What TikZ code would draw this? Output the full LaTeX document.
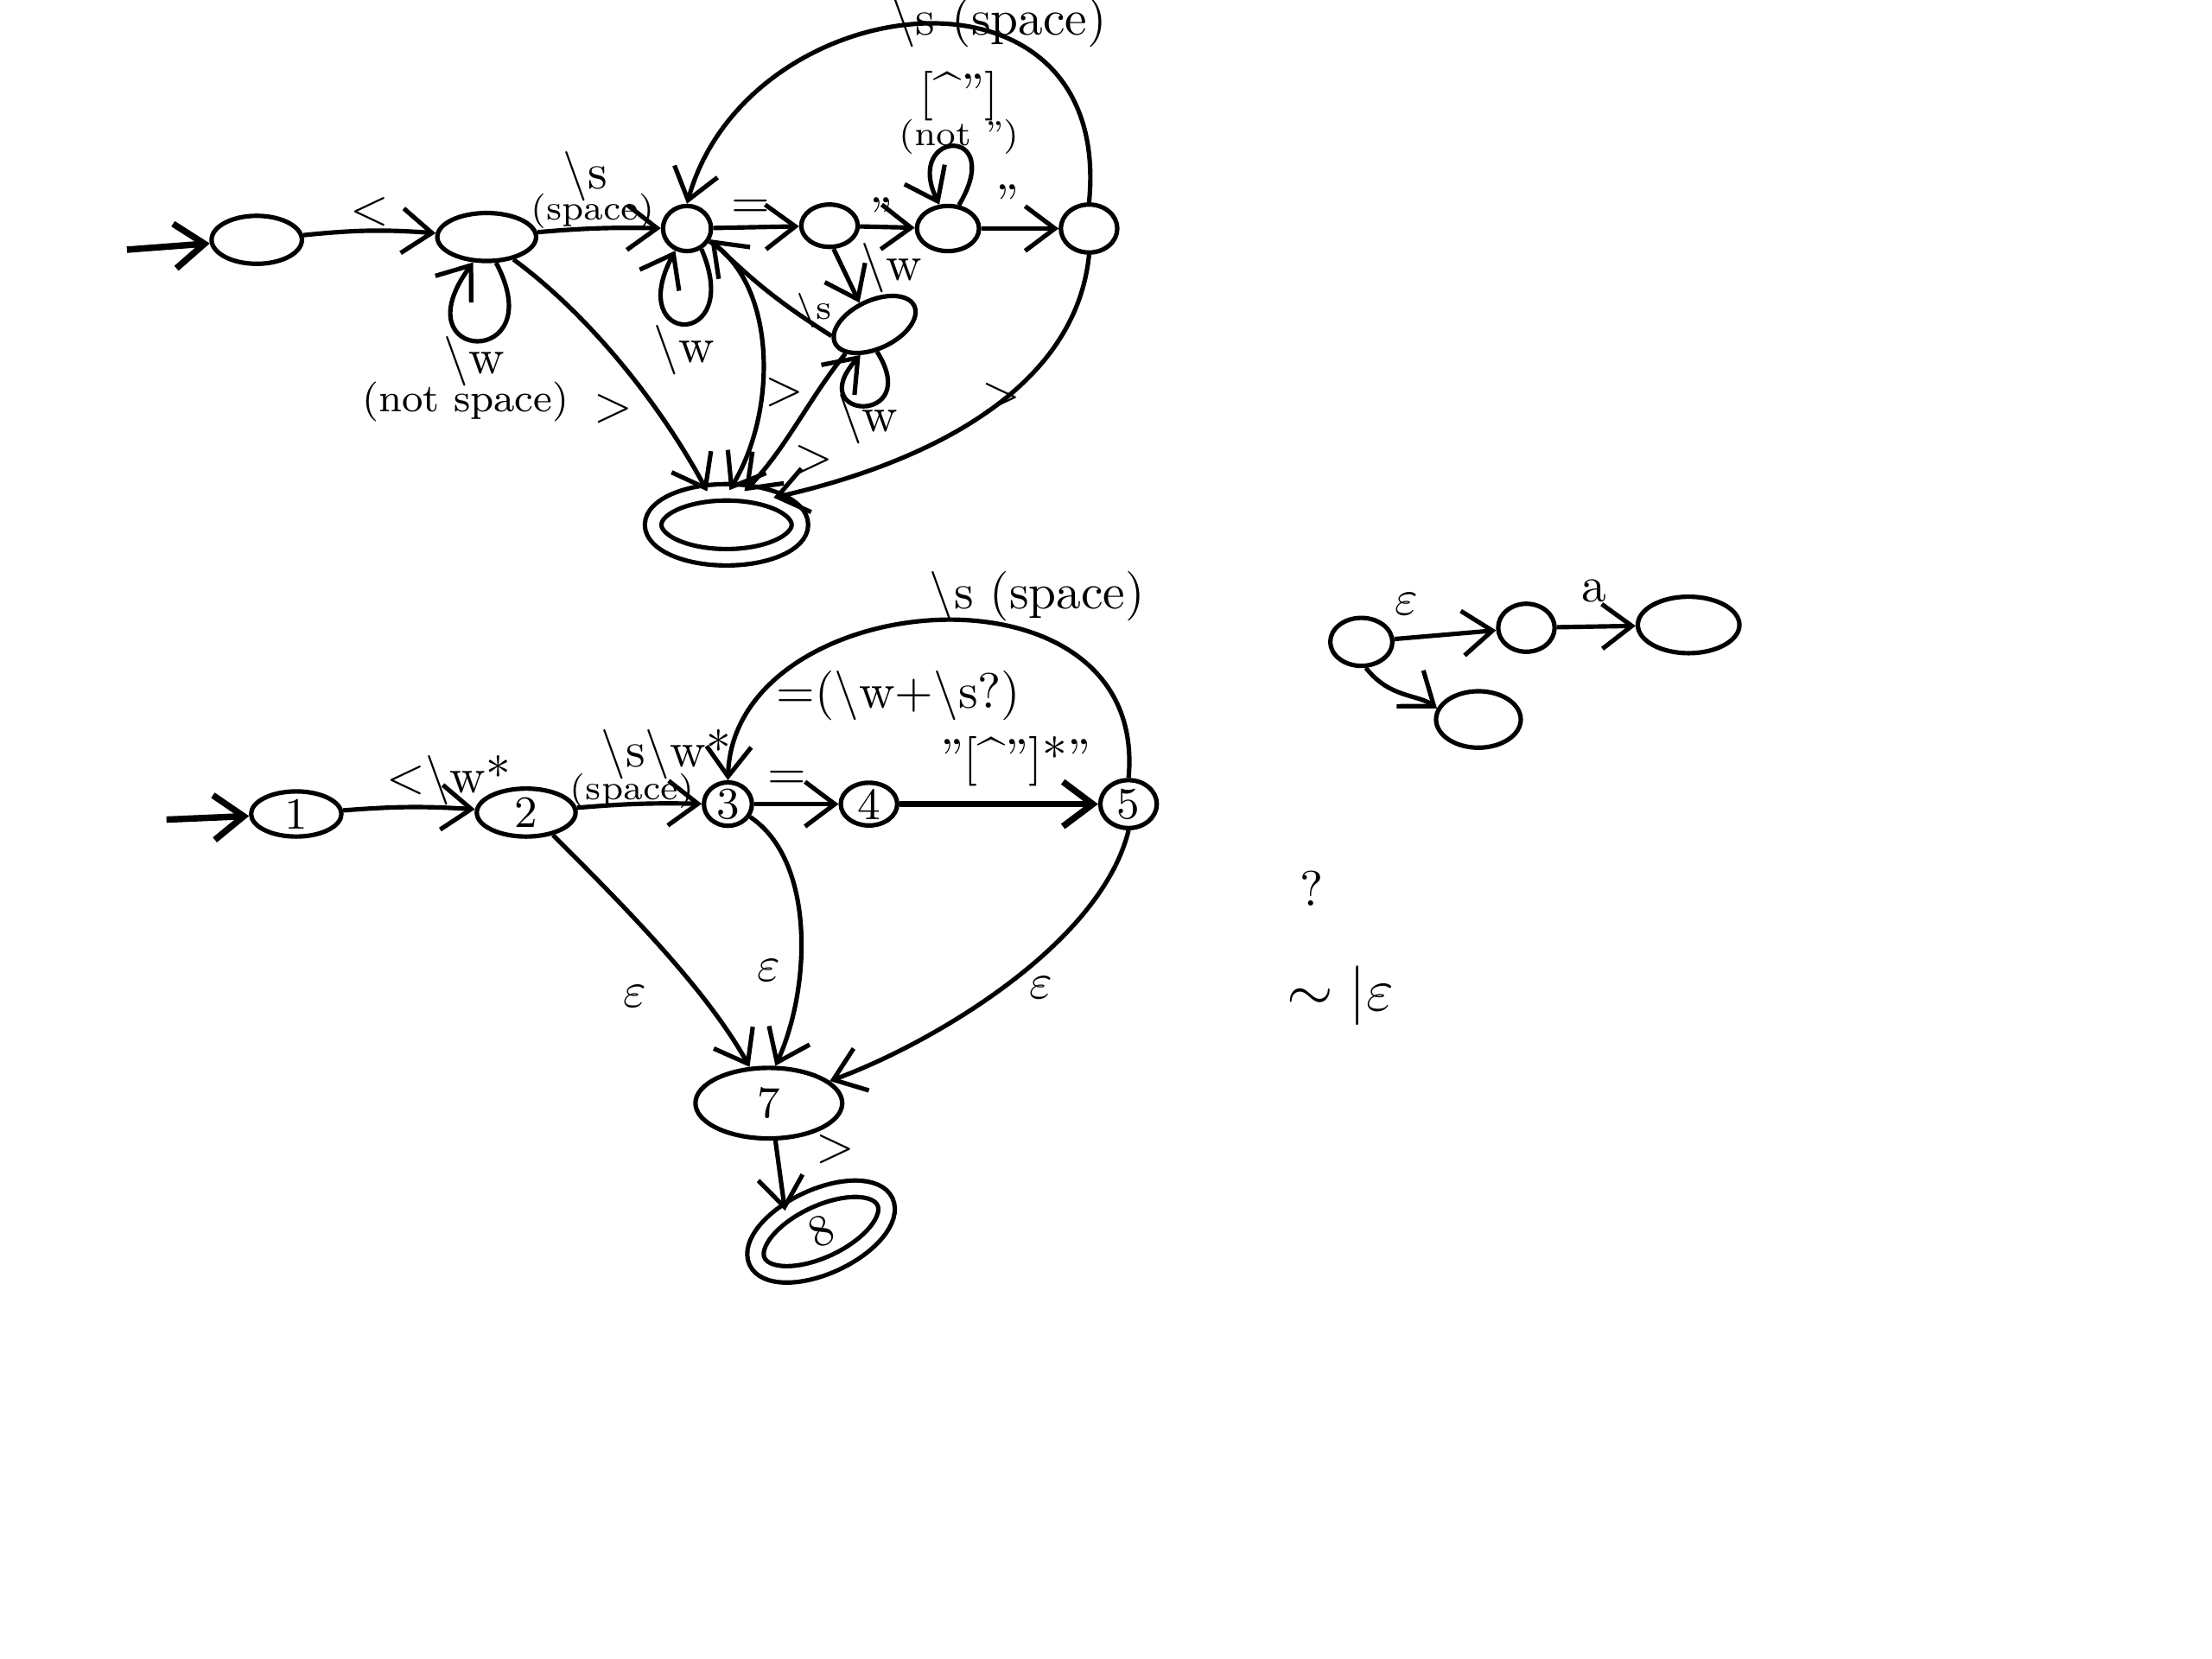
\documentclass[tikz,border=0pt]{standalone}
\usetikzlibrary{arrows.meta,shapes.geometric}
\begin{document}
\begin{tikzpicture}[x=0.01cm,y=-0.01cm,line width=0.9pt,
  >={Straight Barb[length=6pt,width=9pt]},
  st/.style={draw,ellipse,inner sep=0pt,font=\small},
  acc/.style={st,double,double distance=2.4pt},
  lbl/.style={font=\normalsize,inner sep=1pt},
  small/.style={font=\footnotesize,inner sep=1pt},
  tiny/.style={font=\scriptsize,inner sep=1pt}]
\useasboundingbox (0,0) rectangle (1568,1176);
% ---------- top diagram ----------
\coordinate (S1) at (90,177);
\node[st,minimum width=0.64cm,minimum height=0.34cm] (A) at (182,170) {};
\node[st,minimum width=0.70cm,minimum height=0.34cm] (B) at (345,168) {};
\node[st,minimum width=0.34cm,minimum height=0.32cm] (C) at (487,162) {};
\node[st,minimum width=0.40cm,minimum height=0.30cm] (D) at (588,160) {};
\node[st,minimum width=0.44cm,minimum height=0.32cm] (E) at (672,162) {};
\node[st,minimum width=0.40cm,minimum height=0.34cm] (F) at (772,162) {};
\node[st,minimum width=0.62cm,minimum height=0.34cm,rotate=25] (G) at (620,230) {};
\node[acc,minimum width=1.04cm,minimum height=0.46cm] (H) at (515,372) {};

\draw[->,line width=1.3pt] (S1) -- (A);
\draw[->] (A) to[bend left=5] (B);
\draw[->] (B) to[bend left=3] (C);
\draw[->] (B.-70) .. controls (392,262) and (282,258) .. (B.-118);
\draw[->] (C.-55) .. controls (528,248) and (442,246) .. (C.-118);
\draw[->] (C) -- (D);
\draw[->] (D) -- (E);
\draw[->] (E.65) .. controls (714,88) and (640,92) .. (E.110);
\draw[->] (E) -- (F);
\draw[->] (F.north) .. controls (790,-40) and (530,-10) .. (C.north);
\draw[->] (D.-80) -- (G.100);
\draw[->] (G.170) to[bend left=6] (C.-25);
\draw[->] (G.-110) .. controls (655,302) and (568,298) .. (G.-140);
\draw[->] (B.-40) .. controls (420,225) and (470,290) .. (H.120);
\draw[->] (C.-30) .. controls (550,200) and (552,290) .. (H.85);
\draw[->] (G.-160) .. controls (575,280) and (556,320) .. (H.62);
\draw[->] (F.south) .. controls (762,280) and (650,330) .. (H.30);

\node[lbl] at (262,150) {<};
\node[lbl] at (415,125) {\textbackslash s};
\node[tiny] at (420,150) {(space)};
\node[lbl] at (336,256) {\textbackslash w};
\node[small] at (330,285) {(not space)};
\node[lbl] at (485,248) {\textbackslash w};
\node[lbl] at (532,148) {=};
\node[lbl] at (625,152) {"};
\node[lbl] at (714,143) {"};
\node[lbl] at (680,68) {[\^{}"]};
\node[tiny] at (680,97) {(not ")};
\node[lbl] at (708,16) {\textbackslash s (space)};
\node[lbl] at (632,190) {\textbackslash w};
\node[tiny] at (577,220) {\textbackslash s};
\node[lbl] at (615,297) {\textbackslash w};
\node[lbl] at (435,290) {>};
\node[lbl] at (556,278) {>};
\node[lbl] at (577,326) {>};
\node[lbl] at (710,282) {>};

% ---------- bottom diagram ----------
\coordinate (S2) at (118,581);
\node[st,minimum width=0.64cm,minimum height=0.32cm] (N1) at (210,577) {1};
\node[st,minimum width=0.70cm,minimum height=0.34cm] (N2) at (373,576) {2};
\node[st,minimum width=0.34cm,minimum height=0.30cm] (N3) at (516,570) {3};
\node[st,minimum width=0.40cm,minimum height=0.28cm] (N4) at (616,570) {4};
\node[st,minimum width=0.40cm,minimum height=0.34cm] (N5) at (800,570) {5};
\node[st,minimum width=1.04cm,minimum height=0.50cm] (N7) at (545,782) {7};
\node[acc,minimum width=1.00cm,minimum height=0.48cm,rotate=25] (N8) at (582,873) {8};

\draw[->,line width=1.3pt] (S2) -- (N1);
\draw[->] (N1) to[bend left=4] (N2);
\draw[->] (N2) to[bend left=3] (N3);
\draw[->] (N3) -- (N4);
\draw[->,line width=1.3pt] (N4) -- (N5);
\draw[->] (N5.north) .. controls (815,390) and (520,415) .. (N3.north);
\draw[->] (N2.-40) .. controls (440,640) and (500,700) .. (N7.118);
\draw[->] (N3.-30) .. controls (578,610) and (575,700) .. (N7.80);
\draw[->] (N5.south) .. controls (780,670) and (660,740) .. (N7.20);
\draw[->] (N7.-80) -- (N8.125);

\node[lbl] at (318,553) {<\textbackslash w*};
\node[lbl] at (472,535) {\textbackslash s\textbackslash w*};
\node[tiny] at (448,561) {(space)};
\node[lbl] at (558,553) {=};
\node[lbl] at (720,540) {"[\^{}"]*"};
\node[lbl] at (735,423) {\textbackslash s (space)};
\node[lbl] at (637,493) {=(\textbackslash w+\textbackslash s?)};
\node[lbl] at (450,706) {$\varepsilon$};
\node[lbl] at (545,688) {$\varepsilon$};
\node[lbl] at (738,700) {$\varepsilon$};
\node[lbl] at (592,815) {>};

% ---------- right sketch ----------
\node[st,minimum width=0.44cm,minimum height=0.34cm] (R1) at (965,455) {};
\node[st,minimum width=0.40cm,minimum height=0.34cm] (R2) at (1082,445) {};
\node[st,minimum width=0.72cm,minimum height=0.40cm] (R3) at (1197,443) {};
\node[st,minimum width=0.60cm,minimum height=0.40cm] (R4) at (1048,510) {};
\draw[->] (R1) -- (R2);
\draw[->] (R2) -- (R3);
\draw[->] (R1.-80) .. controls (985,495) and (1005,492) .. (R4.165);
\node[lbl] at (997,428) {$\varepsilon$};
\node[lbl] at (1130,419) {a};
\node[lbl] at (930,630) {?};
\node[font=\large] at (950,706) {$\sim|\varepsilon$};
\end{tikzpicture}
\end{document}
